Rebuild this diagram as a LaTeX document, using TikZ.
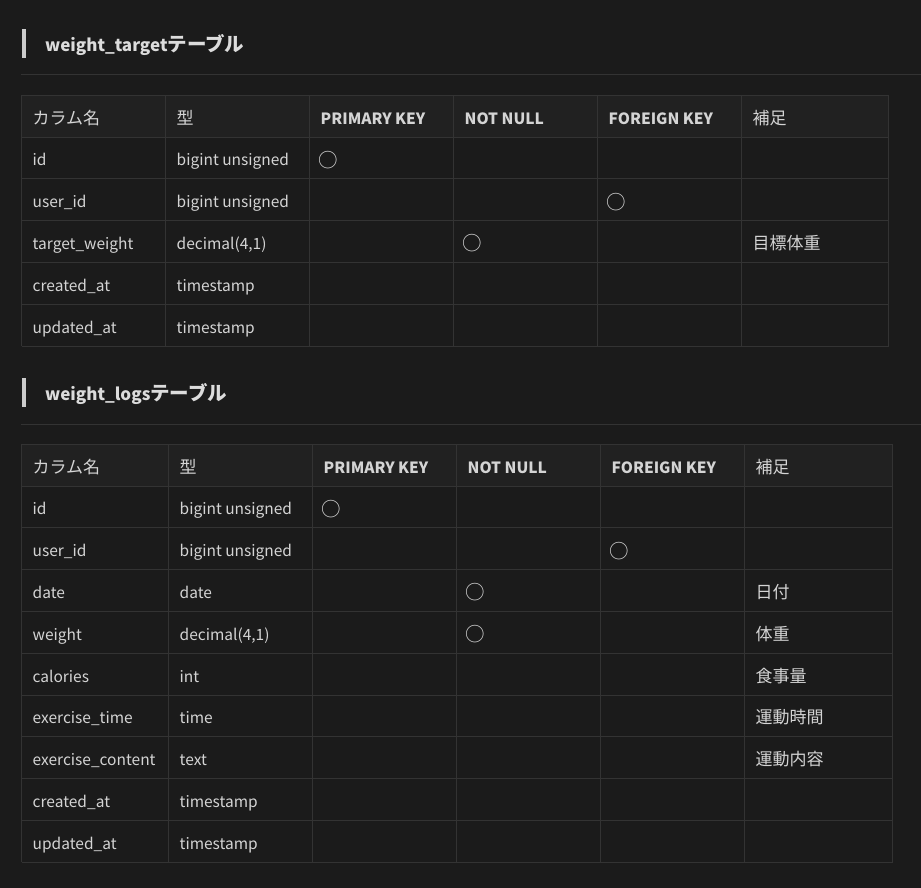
\documentclass[tikz,border=0pt]{standalone}
\usepackage{fontspec}
\setmainfont{Noto Sans CJK JP}
\definecolor{pagebg}{HTML}{1B1B1B}
\definecolor{hdrbg}{HTML}{212121}
\definecolor{gridc}{HTML}{333333}
\definecolor{txt}{HTML}{D4D4D4}
\definecolor{htxt}{HTML}{DCDCDC}
\definecolor{barc}{HTML}{CCCCCC}
\newcommand\jtxt[1]{{\fontsize{17}{20}\selectfont #1}}
\newcommand\jhead[1]{{\fontsize{19.5}{22}\selectfont #1}}
\tikzset{
  cell/.style={anchor=base west, inner sep=0pt, text=txt, font=\fontsize{15.5}{18}\selectfont},
  hcell/.style={cell, font=\bfseries\fontsize{15.5}{18}\selectfont},
  jhcell/.style={cell},
  mark circ/.style={anchor=base, inner sep=0pt, text=txt, font=\fontsize{19.5}{22}\selectfont},
  heading/.style={anchor=base west, inner sep=0pt, text=htxt, font=\bfseries\fontsize{17}{22}\selectfont},
  gridline/.style={draw=gridc, line width=1pt},
  rulel/.style={draw=gridc, line width=1pt},
  bar/.style={fill=barc},
}
\def\ta{95.3}
\def\tb{444.3}
\def\rh{41.8}
\def\bo{28.8}
\def\co{30.1}
\begin{document}
\begin{tikzpicture}[x=1pt,y=-1pt]
\useasboundingbox (0,0) rectangle (921,888);
\fill[pagebg] (0,0) rectangle (921,888);

% ---------- heading 1 ----------
\fill[bar] (22,29.3) rectangle (26,57.7);
\node[heading] (h1) at (45,51.7) {weight\_target\jhead{テーブル}};
\draw[rulel] (21,75) -- (921,75);

% ---------- table 1 ----------
\fill[hdrbg] (21.5,\ta) rectangle (888.5,{\ta+\rh});
\foreach \x in {21.5,165.5,309.5,453.5,597.5,741.5,888.5}
  \draw[gridline] (\x,\ta) -- (\x,{\ta+6*\rh});
\foreach \k in {0,...,6}
  \draw[gridline] (21.5,{\ta+\k*\rh}) -- (888.5,{\ta+\k*\rh});

\node[jhcell] (a-h1) at (32.5,{\ta+\bo}) {\jtxt{カラム名}};
\node[jhcell] (a-h2) at (176.5,{\ta+\bo}) {\jtxt{型}};
\node[hcell] (a-h3) at (320.5,{\ta+\bo}) {PRIMARY KEY};
\node[hcell] (a-h4) at (464.5,{\ta+\bo}) {NOT NULL};
\node[hcell] (a-h5) at (608.5,{\ta+\bo}) {FOREIGN KEY};
\node[jhcell] (a-h6) at (752.5,{\ta+\bo}) {\jtxt{補足}};

\node[cell] (a-r1c1) at (32.5,{\ta+1*\rh+\bo}) {id};
\node[cell] (a-r1c2) at (176.5,{\ta+1*\rh+\bo}) {bigint unsigned};
\node[mark circ] (a-r1c3) at (328.5,{\ta+1*\rh+\co}) {○};

\node[cell] (a-r2c1) at (32.5,{\ta+2*\rh+\bo}) {user\_id};
\node[cell] (a-r2c2) at (176.5,{\ta+2*\rh+\bo}) {bigint unsigned};
\node[mark circ] (a-r2c5) at (616.5,{\ta+2*\rh+\co}) {○};

\node[cell] (a-r3c1) at (32.5,{\ta+3*\rh+\bo}) {target\_weight};
\node[cell] (a-r3c2) at (176.5,{\ta+3*\rh+\bo}) {decimal(4,1)};
\node[mark circ] (a-r3c4) at (472.5,{\ta+3*\rh+\co}) {○};
\node[cell] (a-r3c6) at (752.5,{\ta+3*\rh+\bo}) {\jtxt{目標体重}};

\node[cell] (a-r4c1) at (32.5,{\ta+4*\rh+\bo}) {created\_at};
\node[cell] (a-r4c2) at (176.5,{\ta+4*\rh+\bo}) {timestamp};

\node[cell] (a-r5c1) at (32.5,{\ta+5*\rh+\bo}) {updated\_at};
\node[cell] (a-r5c2) at (176.5,{\ta+5*\rh+\bo}) {timestamp};

% ---------- heading 2 ----------
\fill[bar] (22,378.3) rectangle (26,406.7);
\node[heading] (h2) at (45,400.5) {weight\_logs\jhead{テーブル}};
\draw[rulel] (21,424.3) -- (921,424.3);

% ---------- table 2 ----------
\fill[hdrbg] (21.5,\tb) rectangle (892.5,{\tb+\rh});
\foreach \x in {21.5,168.5,312.5,456.5,600.5,744.5,892.5}
  \draw[gridline] (\x,\tb) -- (\x,{\tb+10*\rh});
\foreach \k in {0,...,10}
  \draw[gridline] (21.5,{\tb+\k*\rh}) -- (892.5,{\tb+\k*\rh});

\node[jhcell] (b-h1) at (32.5,{\tb+\bo}) {\jtxt{カラム名}};
\node[jhcell] (b-h2) at (179.5,{\tb+\bo}) {\jtxt{型}};
\node[hcell] (b-h3) at (323.5,{\tb+\bo}) {PRIMARY KEY};
\node[hcell] (b-h4) at (467.5,{\tb+\bo}) {NOT NULL};
\node[hcell] (b-h5) at (611.5,{\tb+\bo}) {FOREIGN KEY};
\node[jhcell] (b-h6) at (755.5,{\tb+\bo}) {\jtxt{補足}};

\node[cell] (b-r1c1) at (32.5,{\tb+1*\rh+\bo}) {id};
\node[cell] (b-r1c2) at (179.5,{\tb+1*\rh+\bo}) {bigint unsigned};
\node[mark circ] (b-r1c3) at (331.5,{\tb+1*\rh+\co}) {○};

\node[cell] (b-r2c1) at (32.5,{\tb+2*\rh+\bo}) {user\_id};
\node[cell] (b-r2c2) at (179.5,{\tb+2*\rh+\bo}) {bigint unsigned};
\node[mark circ] (b-r2c5) at (619.5,{\tb+2*\rh+\co}) {○};

\node[cell] (b-r3c1) at (32.5,{\tb+3*\rh+\bo}) {date};
\node[cell] (b-r3c2) at (179.5,{\tb+3*\rh+\bo}) {date};
\node[mark circ] (b-r3c4) at (475.5,{\tb+3*\rh+\co}) {○};
\node[cell] (b-r3c6) at (755.5,{\tb+3*\rh+\bo}) {\jtxt{日付}};

\node[cell] (b-r4c1) at (32.5,{\tb+4*\rh+\bo}) {weight};
\node[cell] (b-r4c2) at (179.5,{\tb+4*\rh+\bo}) {decimal(4,1)};
\node[mark circ] (b-r4c4) at (475.5,{\tb+4*\rh+\co}) {○};
\node[cell] (b-r4c6) at (755.5,{\tb+4*\rh+\bo}) {\jtxt{体重}};

\node[cell] (b-r5c1) at (32.5,{\tb+5*\rh+\bo}) {calories};
\node[cell] (b-r5c2) at (179.5,{\tb+5*\rh+\bo}) {int};
\node[cell] (b-r5c6) at (755.5,{\tb+5*\rh+\bo}) {\jtxt{食事量}};

\node[cell] (b-r6c1) at (32.5,{\tb+6*\rh+\bo}) {exercise\_time};
\node[cell] (b-r6c2) at (179.5,{\tb+6*\rh+\bo}) {time};
\node[cell] (b-r6c6) at (755.5,{\tb+6*\rh+\bo}) {\jtxt{運動時間}};

\node[cell] (b-r7c1) at (32.5,{\tb+7*\rh+\bo}) {exercise\_content};
\node[cell] (b-r7c2) at (179.5,{\tb+7*\rh+\bo}) {text};
\node[cell] (b-r7c6) at (755.5,{\tb+7*\rh+\bo}) {\jtxt{運動内容}};

\node[cell] (b-r8c1) at (32.5,{\tb+8*\rh+\bo}) {created\_at};
\node[cell] (b-r8c2) at (179.5,{\tb+8*\rh+\bo}) {timestamp};

\node[cell] (b-r9c1) at (32.5,{\tb+9*\rh+\bo}) {updated\_at};
\node[cell] (b-r9c2) at (179.5,{\tb+9*\rh+\bo}) {timestamp};
\end{tikzpicture}
\end{document}
